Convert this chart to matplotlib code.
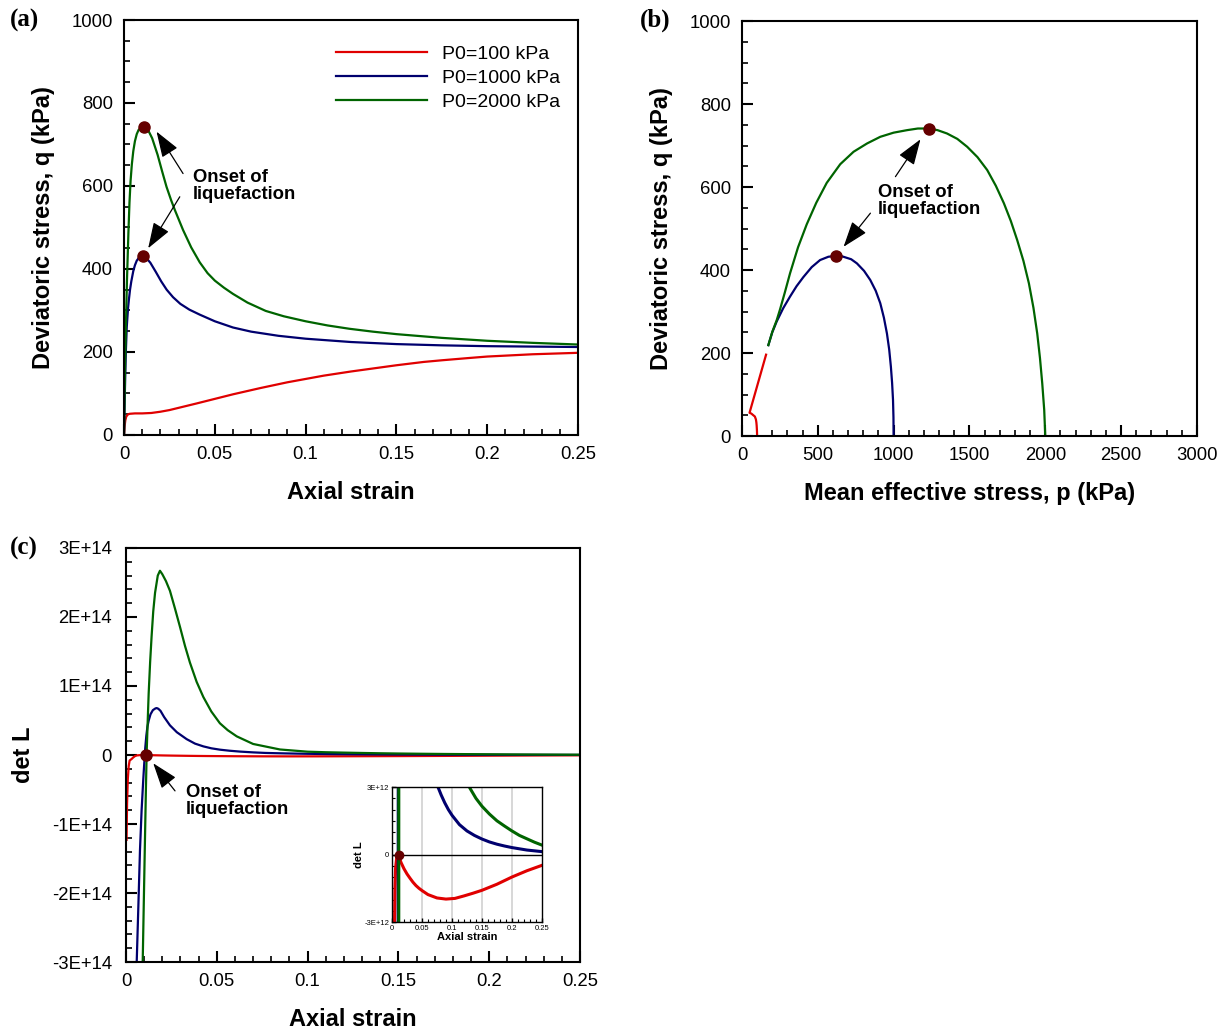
import matplotlib
matplotlib.use('Agg')
import matplotlib.pyplot as plt
from matplotlib.ticker import MultipleLocator, FuncFormatter, FixedLocator

plt.rcParams['font.family'] = ['Liberation Sans', 'DejaVu Sans']

RED = '#e00000'
BLUE = '#00006e'
GREEN = '#006400'
DOT = '#650000'

labels = ['P0=100 kPa', 'P0=1000 kPa', 'P0=2000 kPa']

# (a) axial strain vs deviatoric stress q (kPa)
strain_a_100 = [0, 0.0003, 0.0007, 0.0012, 0.002, 0.003, 0.006, 0.01, 0.015, 0.02, 0.025, 0.0325,
                0.04, 0.05, 0.06, 0.075, 0.09, 0.1, 0.11, 0.125, 0.14, 0.15, 0.165, 0.175, 0.19,
                0.2, 0.225, 0.25]
q_a_100 = [0, 20, 35, 44, 49, 51, 52, 52, 53, 56, 60, 68,
           76, 87, 98, 113, 127, 135, 143, 153, 162, 168, 176, 180, 185.5,
           189, 194.5, 198]

strain_a_1000 = [0, 0.0005, 0.001, 0.0015, 0.0022, 0.0027, 0.0033, 0.004, 0.0051, 0.006, 0.007,
                 0.0085, 0.0102, 0.012, 0.0145, 0.0175, 0.0205, 0.0235, 0.027, 0.031, 0.036,
                 0.0417, 0.05, 0.06, 0.07, 0.085, 0.1, 0.125, 0.15, 0.175, 0.2, 0.25]
q_a_1000 = [0, 110, 200, 260, 305, 327, 350, 370, 395, 409, 420,
            429, 431, 428, 415, 393, 370, 350, 332, 316, 302,
            290, 274, 259, 249, 239, 232, 224, 219, 216, 214, 212]

strain_a_2000 = [0, 0.0003, 0.0006, 0.001, 0.0016, 0.0024, 0.003, 0.0036, 0.0043, 0.0051, 0.006,
                 0.007, 0.008, 0.0095, 0.0111, 0.013, 0.0155, 0.0185, 0.021, 0.0234, 0.026, 0.028,
                 0.0325, 0.037, 0.0417, 0.046, 0.05, 0.055, 0.06, 0.068, 0.078, 0.088, 0.1,
                 0.112, 0.124, 0.137, 0.15, 0.175, 0.2, 0.225, 0.25]
q_a_2000 = [0, 90, 175, 255, 370, 486, 560, 612, 652, 684, 708,
            725, 735, 741, 743, 737, 715, 675, 635, 598, 565, 542,
            494, 452, 416, 390, 372, 355, 340, 319, 299, 286, 274,
            264, 256, 249, 243, 234, 227, 222, 218]

# (b) mean effective stress p vs q (kPa)
p_b_100 = [100, 99, 97, 95, 92, 85, 75, 62, 50, 159]
q_b_100 = [0, 12, 25, 33, 40, 47, 50, 54, 56, 196]

p_b_1000 = [1000, 999, 996, 990, 982, 971, 956, 936, 912, 882, 846, 805, 758, 720, 660, 619,
            570, 515, 460, 405, 360, 317, 272, 229, 200, 174]
q_b_1000 = [0, 45, 87, 128, 167, 208, 247, 285, 320, 350, 376, 398, 416, 426, 433, 434,
            432, 424, 407, 383, 361, 336, 308, 276, 250, 219]

p_b_2000 = [2000, 1993, 1980, 1965, 1947, 1922, 1892, 1856, 1815, 1773, 1727, 1674, 1617, 1553,
            1485, 1420, 1352, 1290, 1231, 1160, 1088, 1000, 912, 825, 736, 648, 559, 490, 427,
            370, 317, 282, 251, 229, 200, 174]
q_b_2000 = [0, 63, 127, 188, 247, 309, 368, 422, 472, 518, 561, 603, 641, 672,
            697, 716, 729, 737, 741, 741, 737, 731, 721, 705, 685, 655, 610, 562, 510,
            455, 392, 345, 305, 279, 251, 219]

# (c) axial strain vs det L
strain_c_100 = [0.0003, 0.0006, 0.001, 0.0015, 0.002, 0.003, 0.004, 0.005, 0.006, 0.008, 0.01,
                0.012, 0.015, 0.02, 0.025, 0.03, 0.035, 0.04, 0.045, 0.05, 0.06, 0.075, 0.09,
                0.105, 0.12, 0.135, 0.15, 0.175, 0.2, 0.225, 0.25]
det_c_100 = [-1.23e14, -0.7e14, -0.35e14, -0.16e14, -0.08e14, -6e12, -3.5e12, -1.5e12, -0.6e12,
             -0.1e12, 0.0, -0.1e12, -0.35e12, -0.63e12, -0.86e12, -1.05e12, -1.23e12, -1.38e12,
             -1.5e12, -1.6e12, -1.78e12, -1.93e12, -1.98e12, -1.95e12, -1.84e12, -1.72e12,
             -1.59e12, -1.32e12, -1.0e12, -0.72e12, -0.48e12]

strain_c_1000 = [0.0055, 0.0059, 0.0068, 0.0077, 0.0086, 0.0095, 0.0101, 0.0106, 0.0112, 0.0118,
                 0.0125, 0.0135, 0.0148, 0.0162, 0.0169, 0.0178, 0.019, 0.021, 0.0242, 0.028,
                 0.0334, 0.038, 0.0426, 0.047, 0.0518, 0.057, 0.063, 0.07, 0.0767, 0.082, 0.088,
                 0.094, 0.1, 0.1125, 0.125, 0.1375, 0.15, 0.1625, 0.175, 0.1875, 0.2, 0.225, 0.25]
det_c_1000 = [-3.3e14, -3.0e14, -2.2e14, -1.38e14, -0.8e14, -0.36e14, -0.1e14, 0.1e14, 0.28e14,
              0.41e14, 0.5e14, 0.59e14, 0.65e14, 0.675e14, 0.68e14, 0.67e14, 0.64e14, 0.55e14,
              0.43e14, 0.33e14, 0.23e14, 0.165e14, 0.125e14, 0.097e14, 7.7e12, 6.2e12, 4.9e12,
              3.8e12, 3.0e12, 2.65e12, 2.3e12, 2.0e12, 1.75e12, 1.33e12, 1.05e12, 0.85e12,
              0.69e12, 0.56e12, 0.46e12, 0.38e12, 0.31e12, 0.2e12, 0.13e12]

strain_c_2000 = [0.0088, 0.0092, 0.0099, 0.0105, 0.011, 0.0114, 0.0119, 0.0125, 0.0133, 0.0141,
                 0.015, 0.016, 0.0175, 0.0187, 0.02, 0.022, 0.0242, 0.027, 0.0297, 0.0325, 0.0352,
                 0.0389, 0.0426, 0.047, 0.0517, 0.056, 0.061, 0.07, 0.0848, 0.1, 0.11, 0.12, 0.13,
                 0.14, 0.15, 0.1625, 0.175, 0.1875, 0.2, 0.2125, 0.225, 0.2375, 0.25]
det_c_2000 = [-3.5e14, -3.0e14, -2.0e14, -1.15e14, -0.45e14, 0.05e14, 0.45e14, 0.9e14, 1.35e14,
              1.72e14, 2.08e14, 2.35e14, 2.6e14, 2.67e14, 2.62e14, 2.52e14, 2.38e14, 2.12e14,
              1.86e14, 1.58e14, 1.34e14, 1.06e14, 0.84e14, 0.63e14, 0.46e14, 0.36e14, 0.27e14,
              0.16e14, 0.08e14, 4.8e12, 4.0e12, 3.45e12, 2.95e12, 2.5e12, 2.15e12, 1.8e12,
              1.5e12, 1.27e12, 1.05e12, 0.85e12, 0.7e12, 0.55e12, 0.42e12]

# onset of liquefaction points
onset_a_strain = [0.0102, 0.0111]
onset_a_q = [431, 743]
onset_b_p = [619, 1231]
onset_b_q = [434, 741]
onset_c_strain = [0.011]
onset_c_det = [0.0]


def style_axes(ax, fs=13.3, major=8, minor=4.5, width=1.5, xpad=8, ypad=8):
    for s in ax.spines.values():
        s.set_linewidth(width)
    ax.tick_params(which='both', direction='in', top=False, right=False, labelsize=fs)
    ax.tick_params(axis='x', which='major', pad=xpad)
    ax.tick_params(axis='y', which='major', pad=ypad)
    ax.tick_params(which='major', length=major, width=width)
    ax.tick_params(which='minor', length=minor, width=width * 0.8)


arrow = dict(arrowstyle='-|>,head_length=0.8,head_width=0.28', color='k', lw=0.9,
             mutation_scale=20, shrinkA=0, shrinkB=0)
note_font = dict(fontsize=13.3, fontweight='bold', linespacing=1.0)
lab = dict(fontsize=17, fontweight='bold')

fig = plt.figure(figsize=(12.28, 10.31), dpi=100)

# ---- (a)
ax1 = fig.add_axes([0.1010, 0.5781, 0.3697, 0.4025])
ax1.plot(strain_a_100, q_a_100, color=RED, lw=1.6, label=labels[0])
ax1.plot(strain_a_1000, q_a_1000, color=BLUE, lw=1.6, label=labels[1])
ax1.plot(strain_a_2000, q_a_2000, color=GREEN, lw=1.6, label=labels[2])
ax1.plot(onset_a_strain, onset_a_q, 'o', color=DOT, ms=8, zorder=5)
ax1.set_xlim(0, 0.25)
ax1.set_ylim(0, 1000)
ax1.xaxis.set_major_locator(MultipleLocator(0.05))
ax1.xaxis.set_minor_locator(MultipleLocator(0.01))
ax1.yaxis.set_major_locator(MultipleLocator(200))
ax1.yaxis.set_minor_locator(MultipleLocator(50))
ax1.xaxis.set_major_formatter(FuncFormatter(lambda v, p: '0' if v == 0 else f'{v:g}'))
style_axes(ax1)
ax1.set_xlabel('Axial strain', labelpad=13, **lab)
ax1.set_ylabel('Deviatoric stress, q (kPa)', labelpad=12, **lab)
ax1.legend(loc='upper left', bbox_to_anchor=(0.445, 0.962), frameon=False, fontsize=14,
           handlelength=4.7, handletextpad=0.75, labelspacing=0.32, borderpad=0)
ax1.annotate('', xy=(0.0179, 731), xytext=(0.0325, 630), arrowprops=arrow)
ax1.annotate('', xy=(0.0133, 450), xytext=(0.0307, 574), arrowprops=arrow)
ax1.text(0.038, 600, 'Onset of\nliquefaction', ha='left', va='center', **note_font)

# ---- (b)
ax2 = fig.add_axes([0.6042, 0.5771, 0.3705, 0.4025])
ax2.plot(p_b_100, q_b_100, color=RED, lw=1.6)
ax2.plot(p_b_1000, q_b_1000, color=BLUE, lw=1.6)
ax2.plot(p_b_2000, q_b_2000, color=GREEN, lw=1.6)
ax2.plot(onset_b_p, onset_b_q, 'o', color=DOT, ms=8, zorder=5)
ax2.set_xlim(0, 3000)
ax2.set_ylim(0, 1000)
ax2.xaxis.set_major_locator(MultipleLocator(500))
ax2.xaxis.set_minor_locator(MultipleLocator(100))
ax2.yaxis.set_major_locator(MultipleLocator(200))
ax2.yaxis.set_minor_locator(MultipleLocator(50))
style_axes(ax2)
ax2.set_xlabel('Mean effective stress, p (kPa)', labelpad=13, **lab)
ax2.set_ylabel('Deviatoric stress, q (kPa)', labelpad=12, **lab)
ax2.annotate('', xy=(1177, 715), xytext=(1012, 625), arrowprops=arrow)
ax2.annotate('', xy=(670, 456), xytext=(847, 537), arrowprops=arrow)
ax2.text(895, 567, 'Onset of\nliquefaction', ha='left', va='center', **note_font)

# ---- (c)
ax3 = fig.add_axes([0.1026, 0.0669, 0.3697, 0.4016])
ax3.plot(strain_c_100, det_c_100, color=RED, lw=1.6)
ax3.plot(strain_c_1000, det_c_1000, color=BLUE, lw=1.6)
ax3.plot(strain_c_2000, det_c_2000, color=GREEN, lw=1.6)
ax3.plot(onset_c_strain, onset_c_det, 'o', color=DOT, ms=8, zorder=5)
ax3.set_xlim(0, 0.25)
ax3.set_ylim(-3e14, 3e14)
ax3.xaxis.set_major_locator(MultipleLocator(0.05))
ax3.xaxis.set_minor_locator(MultipleLocator(0.01))
ax3.yaxis.set_major_locator(MultipleLocator(1e14))
ax3.yaxis.set_minor_locator(MultipleLocator(0.2e14))
ax3.xaxis.set_major_formatter(FuncFormatter(lambda v, p: '0' if v == 0 else f'{v:g}'))
ax3.yaxis.set_major_formatter(FuncFormatter(lambda v, p: '0' if abs(v) < 1 else f'{v / 1e14:.0f}E+14'))
style_axes(ax3, ypad=10)
ax3.set_xlabel('Axial strain', labelpad=13, **lab)
ax3.set_ylabel('det L', labelpad=12, **lab)
ax3.annotate('', xy=(0.015, -0.12e14), xytext=(0.027, -0.52e14), arrowprops=arrow)
ax3.text(0.033, -0.66e14, 'Onset of\nliquefaction', ha='left', va='center', **note_font)

# ---- inset of (c)
ax4 = fig.add_axes([0.3192, 0.1057, 0.1221, 0.1309])
for x in [0.05, 0.1, 0.15, 0.2]:
    ax4.axvline(x, color='#d4d4d4', lw=1.3, zorder=0)
ax4.axhline(0, color='k', lw=1.0, zorder=1)
ax4.plot(strain_c_100, det_c_100, color=RED, lw=2.2)
ax4.plot(strain_c_1000, det_c_1000, color=BLUE, lw=2.2)
ax4.plot(strain_c_2000, det_c_2000, color=GREEN, lw=2.2)
ax4.plot(onset_c_strain, onset_c_det, 'o', color=DOT, ms=6, zorder=5)
ax4.set_xlim(0, 0.25)
ax4.set_ylim(-3e12, 3e12)
ax4.xaxis.set_major_locator(MultipleLocator(0.05))
ax4.xaxis.set_minor_locator(MultipleLocator(0.01))
ax4.yaxis.set_major_locator(FixedLocator([-3e12, 0, 3e12]))
ax4.yaxis.set_minor_locator(MultipleLocator(0.5e12))
ax4.xaxis.set_major_formatter(FuncFormatter(lambda v, p: '0' if v == 0 else f'{v:g}'))
ax4.yaxis.set_major_formatter(FuncFormatter(lambda v, p: '0' if abs(v) < 1 else f'{v / 1e12:.0f}E+12'))
style_axes(ax4, fs=5.5, major=3, minor=2, width=1.0, xpad=2, ypad=2)
ax4.set_xlabel('Axial strain', fontsize=8, fontweight='bold', labelpad=0)
ax4.set_ylabel('det L', fontsize=8, fontweight='bold', labelpad=0)

# panel letters
serif = dict(family=['Liberation Serif', 'DejaVu Serif'], fontsize=18, fontweight='bold')
fig.text(0.008, 0.98, '(a)', ha='left', va='center', **serif)
fig.text(0.521, 0.98, '(b)', ha='left', va='center', **serif)
fig.text(0.008, 0.468, '(c)', ha='left', va='center', **serif)

fig.savefig('out.png', dpi=100)
